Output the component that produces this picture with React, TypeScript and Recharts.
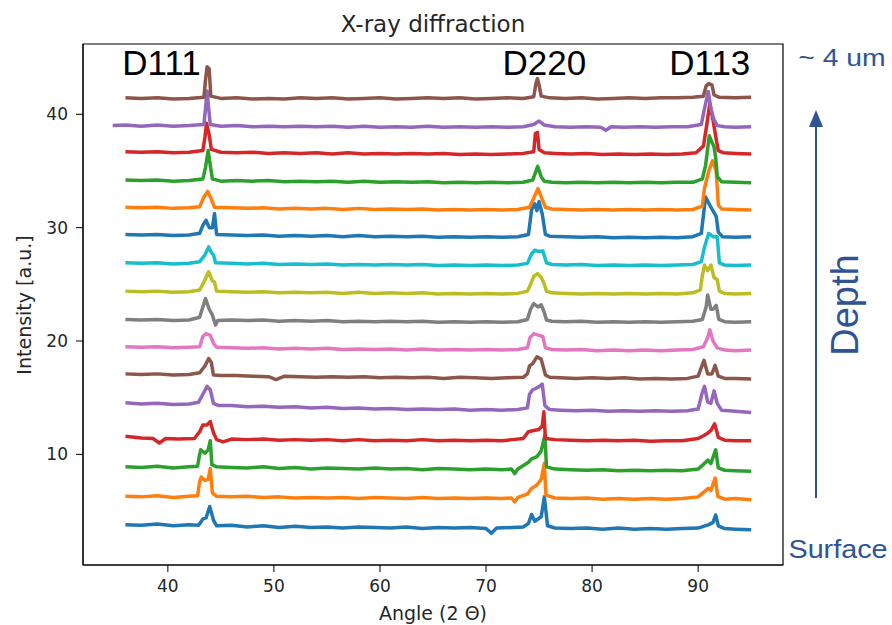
import { LineChart, Line, XAxis, YAxis, ReferenceDot, ReferenceArea } from 'recharts';

// depth scans, bottom (surface) to top (~4 um); [angle, intensity]
const scan00 = [[36,3.8],[37.5,3.75],[39,3.85],[40.5,3.7],[42,3.8],[42.9,3.75],[43.3,4.3],[43.6,4.4],[43.95,5.4],[44.3,4.2],[44.6,3.7],[46,3.75],[47.5,3.6],[49,3.7],[50.5,3.55],[52,3.65],[53.5,3.55],[55,3.6],[56.5,3.5],[58,3.6],[59.5,3.55],[61,3.5],[62.5,3.6],[64,3.45],[65.5,3.55],[67,3.5],[68.5,3.55],[70,3.45],[70.5,3.05],[71.0,3.5],[72.5,3.55],[73.5,3.6],[74,3.9],[74.3,4.7],[74.6,4.1],[75.2,4.5],[75.5,6.25],[75.8,3.7],[76.5,3.5],[78,3.45],[79.5,3.5],[81,3.4],[82.5,3.5],[84,3.4],[85.5,3.45],[87,3.4],[88.5,3.45],[90,3.5],[91,3.8],[91.4,4.0],[91.65,4.65],[91.9,3.7],[92.5,3.45],[93.5,3.4],[95,3.35]];
const scan01 = [[36,6.3],[37.5,6.25],[39,6.35],[40.5,6.2],[42,6.3],[42.8,6.35],[43.0,7.6],[43.15,8.0],[43.5,7.7],[43.8,7.8],[44.0,8.75],[44.2,6.6],[44.6,6.3],[46,6.25],[47.5,6.3],[49,6.2],[50.5,6.25],[52,6.15],[53.5,6.2],[55,6.15],[56.5,6.2],[58,6.1],[59.5,6.2],[61,6.15],[62.5,6.1],[64,6.2],[65.5,6.1],[67,6.15],[68.5,6.1],[70,6.15],[71.5,6.1],[72.4,6.15],[72.7,5.8],[73,6.2],[73.9,6.5],[74.3,7.0],[74.8,7.3],[75.2,7.8],[75.5,9.2],[75.65,6.4],[76.5,6.15],[78,6.1],[79.5,6.15],[81,6.05],[82.5,6.1],[84,6.05],[85.5,6.1],[87,6.05],[88.5,6.1],[90,6.25],[90.7,6.8],[90.95,7.0],[91.2,6.8],[91.6,7.9],[91.85,6.3],[92.5,6.05],[93.5,6.1],[95,6.0]];
const scan02 = [[36,8.9],[37.5,8.85],[39,8.95],[40.5,8.8],[42,8.9],[42.8,8.95],[43.0,10.0],[43.1,10.4],[43.5,10.1],[43.8,10.4],[44.0,11.2],[44.15,9.1],[44.6,8.9],[46,8.85],[47.5,8.8],[49,8.9],[50.5,8.75],[52,8.85],[53.5,8.7],[55,8.8],[56.5,8.75],[58,8.7],[59.5,8.8],[61,8.7],[62.5,8.75],[64,8.65],[65.5,8.75],[67,8.7],[68.5,8.65],[70,8.7],[71.5,8.65],[72.4,8.7],[72.7,8.3],[73,8.7],[74,9.3],[74.3,9.6],[74.8,9.8],[75.2,10.3],[75.55,11.7],[75.7,8.9],[76.5,8.7],[78,8.65],[79.5,8.6],[81,8.65],[82.5,8.55],[84,8.6],[85.5,8.55],[87,8.6],[88.5,8.55],[90,8.7],[90.6,9.2],[90.9,9.5],[91.2,9.2],[91.65,10.4],[91.9,8.8],[92.5,8.6],[93.5,8.55],[95,8.5]];
const scan03 = [[36,11.6],[37.5,11.45],[38.6,11.4],[39.2,11.0],[39.8,11.4],[41,11.35],[42.5,11.4],[43.0,12.0],[43.3,12.6],[43.7,12.6],[44.0,12.9],[44.3,11.9],[44.6,11.3],[45.2,11.1],[46,11.35],[47.5,11.3],[49,11.35],[50.5,11.25],[52,11.3],[53.5,11.25],[55,11.3],[56.5,11.2],[58,11.3],[59.5,11.2],[61,11.25],[62.5,11.2],[64,11.3],[65.5,11.2],[67,11.25],[68.5,11.2],[70,11.25],[71.5,11.2],[72.5,11.3],[73.5,11.4],[74.0,12.0],[74.5,12.1],[75.0,12.2],[75.3,12.5],[75.45,13.75],[75.6,11.4],[76.5,11.3],[78,11.25],[79.5,11.2],[81,11.25],[82.5,11.2],[84,11.25],[85.5,11.15],[87,11.2],[88.5,11.2],[90,11.4],[90.8,11.8],[91.2,12.1],[91.55,12.7],[91.9,11.5],[92.5,11.25],[93.5,11.2],[95,11.2]];
const scan04 = [[36,14.55],[37.5,14.45],[39,14.5],[40.5,14.4],[42,14.45],[42.9,14.6],[43.3,15.3],[43.7,16.0],[44.0,15.7],[44.3,14.5],[44.8,14.3],[46,14.3],[47.5,14.2],[49,14.25],[50.5,14.15],[52,14.2],[53.5,14.1],[55,14.15],[56.5,14.05],[58,14.1],[59.5,14.0],[61,14.05],[62.5,13.95],[64,14.0],[65.5,13.95],[67,14.0],[68.5,13.9],[70,13.95],[71.5,13.9],[73,13.95],[73.9,14.1],[74.1,15.3],[74.4,15.7],[74.9,15.9],[75.3,16.2],[75.55,14.3],[76,13.95],[77,13.9],[78.5,13.85],[80,13.9],[81.5,13.8],[83,13.85],[84.5,13.8],[86,13.85],[87.5,13.8],[89,13.85],[90,14.0],[90.4,15.5],[90.6,16.0],[90.9,14.6],[91.2,14.5],[91.5,15.6],[91.8,14.5],[92.2,13.9],[93.5,13.8],[95,13.7]];
const scan05 = [[36,17.1],[37.5,17.05],[39,17.1],[40.5,17.0],[42,17.05],[43.0,17.2],[43.5,17.8],[43.85,18.45],[44.1,18.1],[44.3,17.0],[45,16.95],[46.5,16.95],[48,16.9],[49.5,16.85],[50.2,16.6],[51,16.9],[52.5,16.85],[54,16.8],[55.5,16.85],[57,16.8],[58.5,16.85],[60,16.75],[61.5,16.8],[63,16.75],[64.5,16.8],[66,16.7],[67.5,16.8],[69,16.75],[70.5,16.7],[72,16.75],[73.5,16.8],[73.9,17.1],[74.1,17.8],[74.4,18.0],[74.8,18.6],[75.2,18.4],[75.6,17.0],[76,16.8],[77,16.75],[78.5,16.7],[80,16.75],[81.5,16.7],[83,16.75],[84.5,16.65],[86,16.7],[87.5,16.65],[89,16.7],[90,16.9],[90.55,18.3],[90.9,17.1],[91.3,17.1],[91.6,17.85],[91.9,16.9],[92.5,16.7],[93.5,16.7],[95,16.65]];
const scan06 = [[36,19.5],[37.5,19.45],[39,19.5],[40.5,19.4],[42,19.45],[43.0,19.5],[43.3,20.4],[43.6,20.65],[44.0,20.5],[44.3,19.8],[44.6,19.45],[46,19.4],[47.5,19.35],[49,19.4],[50.5,19.3],[52,19.35],[53.5,19.3],[55,19.35],[56.5,19.25],[58,19.3],[59.5,19.25],[61,19.3],[62.5,19.2],[64,19.3],[65.5,19.2],[67,19.25],[68.5,19.2],[70,19.25],[71.5,19.2],[73,19.25],[73.9,19.4],[74.15,20.3],[74.5,20.65],[75.0,20.5],[75.35,20.4],[75.6,19.4],[76.2,19.25],[77.5,19.2],[79,19.25],[80.5,19.15],[82,19.2],[83.5,19.15],[85,19.2],[86.5,19.15],[88,19.2],[89.5,19.25],[90.5,19.5],[90.9,20.3],[91.1,21.0],[91.4,20.0],[91.8,19.4],[92.5,19.2],[93.5,19.15],[95,19.2]];
const scan07 = [[36,21.9],[37.5,21.85],[39,21.9],[40.5,21.8],[42,21.85],[43.0,22.1],[43.3,23.0],[43.55,23.75],[43.9,22.8],[44.2,22.3],[44.5,21.4],[44.7,21.8],[46,21.85],[47.5,21.8],[49,21.85],[50.5,21.75],[52,21.8],[53.5,21.75],[55,21.8],[56.5,21.7],[58,21.75],[59.5,21.7],[61,21.75],[62.5,21.7],[64,21.75],[65.5,21.65],[67,21.7],[68.5,21.65],[70,21.7],[71.5,21.65],[73,21.7],[73.9,21.9],[74.2,22.8],[74.5,23.3],[74.9,23.0],[75.2,23.2],[75.5,22.5],[75.7,21.85],[76.2,21.75],[77.5,21.7],[79,21.75],[80.5,21.65],[82,21.7],[83.5,21.65],[85,21.7],[86.5,21.65],[88,21.7],[89.5,21.75],[90.4,21.9],[90.75,23.0],[90.9,24.05],[91.2,22.8],[91.4,22.8],[91.7,23.15],[91.95,21.9],[92.5,21.7],[93.5,21.65],[95,21.7]];
const scan08 = [[36,24.4],[37.5,24.35],[39,24.4],[40.5,24.3],[42,24.35],[43.0,24.5],[43.4,25.2],[43.85,26.1],[44.2,25.3],[44.4,25.2],[44.6,24.4],[46,24.35],[47.5,24.3],[49,24.35],[50.5,24.25],[52,24.3],[53.5,24.25],[55,24.3],[56.5,24.2],[58,24.3],[59.5,24.2],[61,24.25],[62.5,24.2],[64,24.25],[65.5,24.15],[67,24.2],[68.5,24.15],[70,24.2],[71.5,24.15],[73,24.2],[73.9,24.4],[74.2,25.0],[74.5,25.7],[74.85,25.95],[75.2,25.6],[75.5,25.0],[75.7,24.4],[76.2,24.25],[77.5,24.2],[79,24.15],[80.5,24.2],[82,24.15],[83.5,24.2],[85,24.15],[86.5,24.2],[88,24.15],[89.5,24.25],[90.2,24.5],[90.4,25.8],[90.6,26.7],[90.9,26.2],[91.2,26.7],[91.5,25.6],[91.8,25.4],[92.0,24.4],[92.5,24.2],[93.5,24.15],[95,24.2]];
const scan09 = [[36,26.9],[37.5,26.85],[39,26.9],[40.5,26.8],[42,26.85],[43.0,27.0],[43.5,27.6],[43.85,28.3],[44.1,27.8],[44.3,27.6],[44.5,26.9],[46,26.85],[47.5,26.8],[49,26.85],[50.5,26.75],[52,26.8],[53.5,26.75],[55,26.8],[56.5,26.7],[58,26.75],[59.5,26.7],[61,26.75],[62.5,26.7],[64,26.75],[65.5,26.65],[67,26.7],[68.5,26.65],[70,26.7],[71.5,26.65],[73,26.7],[73.9,26.85],[74.3,27.7],[74.6,28.0],[75.0,27.9],[75.35,27.95],[75.7,26.9],[76.2,26.75],[77.5,26.7],[79,26.75],[80.5,26.65],[82,26.7],[83.5,26.65],[85,26.7],[86.5,26.65],[88,26.7],[89.5,26.75],[90.3,27.0],[90.6,28.3],[91.0,29.5],[91.4,29.2],[91.8,29.2],[92.0,26.9],[92.5,26.7],[93.5,26.65],[95,26.7]];
const scan10 = [[36,29.4],[37.5,29.35],[39,29.4],[40.5,29.3],[42,29.35],[43.0,29.5],[43.3,30.2],[43.6,30.65],[43.9,30.0],[44.2,30.0],[44.4,31.25],[44.6,29.4],[46,29.35],[47.5,29.3],[49,29.35],[50.5,29.25],[52,29.3],[53.5,29.25],[55,29.3],[56.5,29.2],[58,29.3],[59.5,29.2],[61,29.25],[62.5,29.2],[64,29.25],[65.5,29.15],[67,29.2],[68.5,29.15],[70,29.2],[71.5,29.15],[73,29.2],[74.0,29.4],[74.3,31.6],[74.6,32.1],[74.8,31.5],[75.0,32.3],[75.3,31.2],[75.6,29.4],[76,29.25],[77.5,29.2],[79,29.15],[80.5,29.2],[82,29.1],[83.5,29.15],[85,29.1],[86.5,29.15],[88,29.1],[89.5,29.2],[90.3,29.5],[90.7,32.7],[91.2,31.8],[91.7,31.0],[91.9,29.6],[92.3,29.2],[93.5,29.15],[95,29.2]];
const scan11 = [[36,31.8],[37.5,31.75],[39,31.8],[40.5,31.7],[42,31.75],[43.0,31.85],[43.4,32.7],[43.75,33.2],[44.1,32.5],[44.4,31.8],[46,31.75],[47.5,31.7],[49,31.75],[50.5,31.65],[52,31.7],[53.5,31.65],[55,31.7],[56.5,31.6],[58,31.7],[59.5,31.6],[61,31.65],[62.5,31.6],[64,31.65],[65.5,31.55],[67,31.6],[68.5,31.55],[70,31.6],[71.5,31.55],[73,31.6],[74.1,31.8],[74.5,32.6],[74.9,33.45],[75.3,32.5],[75.6,31.8],[76.2,31.65],[77.5,31.6],[79,31.55],[80.5,31.6],[82,31.55],[83.5,31.6],[85,31.55],[86.5,31.6],[88,31.55],[89.5,31.6],[90.4,31.9],[90.6,33.5],[91.0,35.0],[91.35,35.9],[91.7,35.0],[91.9,32.0],[92.2,31.65],[93.5,31.6],[95,31.55]];
const scan12 = [[36,34.2],[37.5,34.15],[39,34.2],[40.5,34.1],[42,34.15],[43.3,34.3],[43.55,35.3],[43.8,36.8],[44.0,35.5],[44.2,34.3],[45,34.1],[46.5,34.15],[48,34.1],[49.5,34.15],[51,34.05],[52.5,34.1],[54,34.05],[55.5,34.1],[57,34.0],[58.5,34.1],[60,34.0],[61.5,34.05],[63,34.0],[64.5,34.05],[66,33.95],[67.5,34.0],[69,33.95],[70.5,34.0],[72,33.95],[73.5,34.0],[74.4,34.2],[74.87,35.4],[75.2,34.5],[75.5,34.1],[76.2,34.0],[77.5,33.95],[79,34.0],[80.5,33.95],[82,34.0],[83.5,33.95],[85,34.0],[86.5,33.95],[88,34.0],[89.5,34.0],[90.4,34.3],[90.7,35.5],[91.05,38.1],[91.5,37.1],[91.65,36.2],[91.8,34.5],[92.2,34.05],[93.5,34.0],[95,33.95]];
const scan13 = [[36,36.7],[37.5,36.65],[39,36.7],[40.5,36.6],[42,36.65],[43.3,36.8],[43.5,38.0],[43.65,39.2],[43.9,38.2],[44.1,36.9],[45,36.65],[46.5,36.6],[48,36.65],[49.5,36.55],[51,36.6],[52.5,36.55],[54,36.6],[55.5,36.5],[57,36.6],[58.5,36.5],[60,36.55],[61.5,36.5],[63,36.55],[64.5,36.5],[66,36.55],[67.5,36.45],[69,36.5],[70.5,36.45],[72,36.5],[73.5,36.55],[74.5,36.7],[74.65,38.3],[74.85,38.4],[75.0,36.9],[75.5,36.6],[76.5,36.55],[78,36.5],[79.5,36.55],[81,36.45],[82.5,36.5],[84,36.45],[85.5,36.5],[87,36.45],[88.5,36.5],[89.8,36.6],[90.5,37.2],[90.8,39.0],[91.1,40.95],[91.4,39.5],[91.7,37.8],[91.9,36.8],[92.4,36.6],[93.5,36.55],[95,36.5]];
const scan14 = [[34.8,39.0],[36,39.05],[37.5,38.95],[39,39.05],[40.5,38.95],[42,39.0],[43.4,39.1],[43.55,40.5],[43.7,42.05],[43.85,40.5],[44.0,39.1],[45,38.95],[46.5,39.0],[48,38.9],[49.5,38.95],[51,38.9],[52.5,38.95],[54,38.9],[55.5,38.95],[57,38.85],[58.5,38.95],[60,38.85],[61.5,38.9],[63,38.85],[64.5,38.95],[66,38.85],[67.5,38.9],[69,38.85],[70.5,38.9],[72,38.85],[73.5,38.9],[74.5,39.1],[75.0,39.4],[75.5,39.05],[76.5,38.9],[78,38.85],[79.5,38.9],[80.8,38.85],[81.3,38.6],[81.8,38.9],[83,38.85],[84.5,38.9],[86,38.85],[87.5,38.9],[89,38.9],[90.3,39.1],[90.6,40.5],[90.95,42.0],[91.2,40.5],[91.5,39.5],[91.8,39.0],[92.5,38.9],[93.5,38.85],[95,38.9]];
const scan15 = [[36,41.45],[37.5,41.4],[39,41.45],[40.5,41.35],[42,41.4],[43.4,41.5],[43.55,43.0],[43.7,44.2],[43.9,44.0],[44.05,41.6],[45,41.4],[46.5,41.45],[48,41.35],[49.5,41.4],[51,41.35],[52.5,41.45],[54,41.4],[55.5,41.45],[57,41.35],[58.5,41.4],[60,41.45],[61.5,41.35],[63,41.4],[64.5,41.45],[66,41.4],[67.5,41.45],[69,41.35],[70.5,41.4],[72,41.45],[73.5,41.4],[74.5,41.55],[74.7,42.7],[74.85,43.15],[75.0,42.6],[75.2,41.6],[76,41.45],[77.5,41.4],[79,41.45],[80.5,41.35],[82,41.4],[83.5,41.45],[85,41.4],[86.5,41.45],[88,41.45],[89.5,41.5],[90.5,41.6],[90.75,42.5],[91.0,42.7],[91.3,42.6],[91.5,41.7],[92,41.5],[93.5,41.45],[95,41.5]];

const scans = [scan00, scan01, scan02, scan03, scan04, scan05, scan06, scan07,
  scan08, scan09, scan10, scan11, scan12, scan13, scan14, scan15];

const palette = ['#1f77b4', '#ff7f0e', '#2ca02c', '#d62728', '#9467bd',
  '#8c564b', '#e377c2', '#7f7f7f', '#bcbd22', '#17becf'];

const xTicks = [40, 50, 60, 70, 80, 90];
const yTicks = [10, 20, 30, 40];
const xDomain = [32, 98];
const yDomain = [0.24, 46.2];

// reflection labels: [text, angle, intensity]
const peakLabels: [string, number, number][] = [
  ['D111', 39.4, 44.55],
  ['D220', 75.5, 44.55],
  ['D113', 91.1, 44.55],
];

const tickStyle = { fontSize: 17, fill: '#262626', fontFamily: 'DejaVu Sans' };
const blue = '#2f5496';

export default function App() {
  return (
    <div style={{ position: 'absolute', left: 0, top: 0, width: 892, height: 625, background: '#fff' }}>
      <LineChart width={892} height={625} margin={{ top: 44, right: 109, bottom: 0, left: 0 }}>
        <XAxis xAxisId="b" type="number" dataKey="x" domain={xDomain} ticks={xTicks}
          allowDataOverflow height={60} tick={tickStyle} tickSize={7} tickMargin={8}
          stroke="#000" tickLine={{ stroke: '#000' }} />
        <YAxis yAxisId="l" type="number" domain={yDomain} ticks={yTicks} allowDataOverflow
          width={83} tick={tickStyle} tickSize={7} tickMargin={8} stroke="#000" />
        <ReferenceArea xAxisId="b" yAxisId="l" x1={xDomain[0]} x2={xDomain[1]}
          y1={yDomain[0]} y2={yDomain[1]} fill="none" stroke="#000" strokeWidth={1.2} />
        {scans.map((s, i) => (
          <Line key={i} xAxisId="b" yAxisId="l" data={s.map(([x, y]) => ({ x, y }))}
            dataKey="y" type="linear" dot={false} activeDot={false}
            stroke={palette[i % 10]} strokeWidth={3.5} strokeLinejoin="round"
            isAnimationActive={false} />
        ))}
        {peakLabels.map(([t, x, y]) => (
          <ReferenceDot key={t} xAxisId="b" yAxisId="l" x={x} y={y} r={0}
            fill="none" stroke="none"
            label={{ value: t, position: 'center', fontSize: 35, fill: '#000', fontFamily: 'Liberation Sans' }} />
        ))}
      </LineChart>
      <svg width={892} height={625} style={{ position: 'absolute', left: 0, top: 0, pointerEvents: 'none' }}>
        <text x={433} y={32} textAnchor="middle" fontSize={23} fill="#262626" fontFamily="DejaVu Sans">X-ray diffraction</text>
        <text x={433} y={620} textAnchor="middle" fontSize={19} fill="#262626" fontFamily="DejaVu Sans">Angle (2 Θ)</text>
        <text transform="translate(31,305) rotate(-90)" textAnchor="middle" fontSize={19} fill="#262626" fontFamily="DejaVu Sans">Intensity [a.u.]</text>
        <text transform="translate(842,66) scale(1.18,1)" textAnchor="middle" fontSize={24} fill={blue} fontFamily="Liberation Sans">~ 4 um</text>
        <line x1={816} y1={498} x2={816} y2={125} stroke={blue} strokeWidth={2} />
        <polygon points="816,110 809,127 823,127" fill={blue} />
        <text transform="translate(858,305) rotate(-90)" textAnchor="middle" fontSize={38} fill={blue} fontFamily="Liberation Sans">Depth</text>
        <text transform="translate(838,558) scale(1.15,1)" textAnchor="middle" fontSize={25} fill={blue} fontFamily="Liberation Sans">Surface</text>
      </svg>
    </div>
  );
}
